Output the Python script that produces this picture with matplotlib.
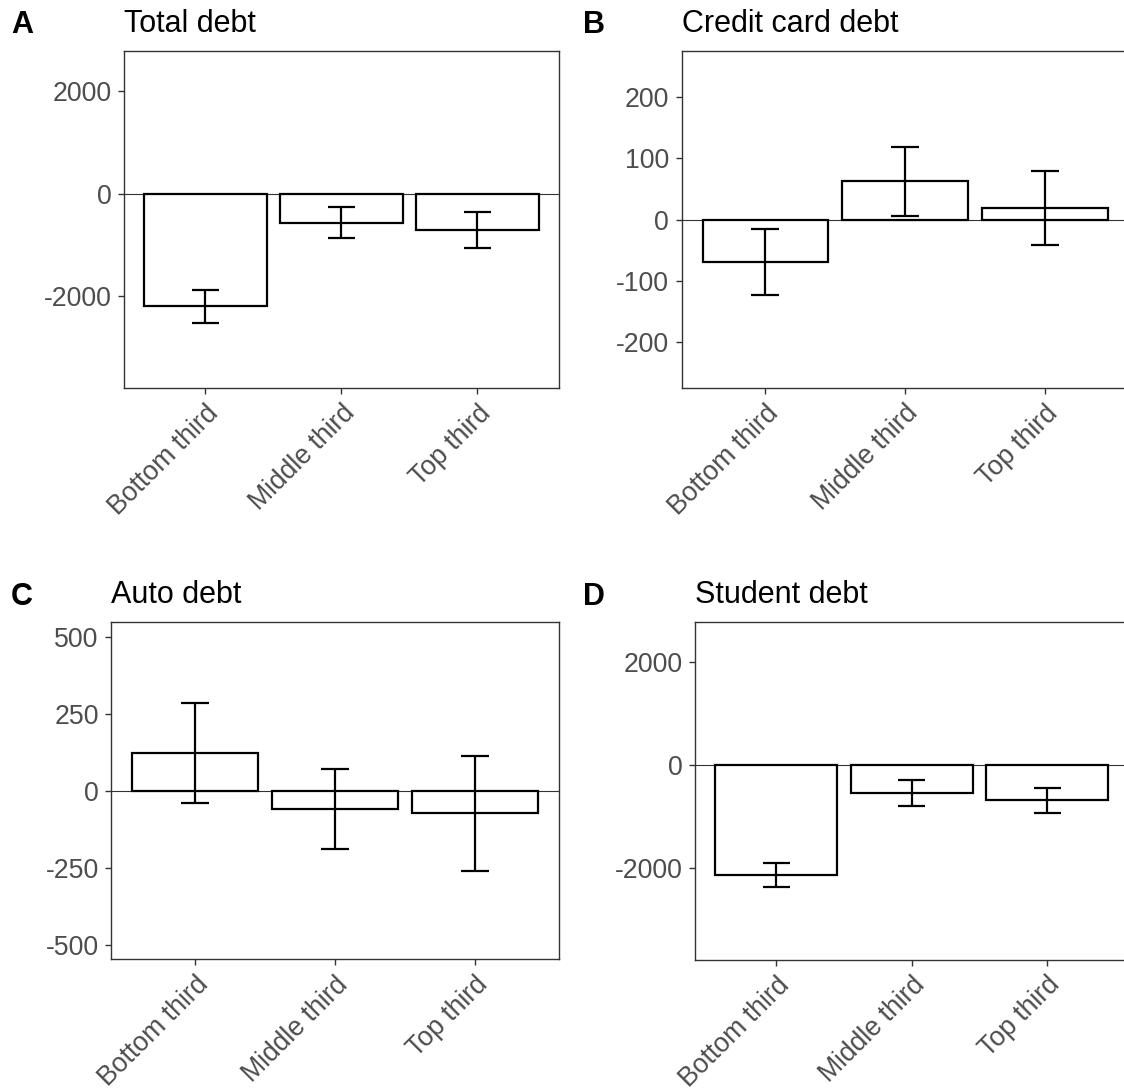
import matplotlib
matplotlib.use("Agg")
import matplotlib.pyplot as plt
import numpy as np

plt.rcParams["font.family"] = ["Liberation Sans", "DejaVu Sans"]

groups = ["Bottom third", "Middle third", "Top third"]

# Mean change and confidence bounds per income third
total_mean = [-2193, -571, -713]
total_low = [-2518, -869, -1063]
total_high = [-1875, -265, -362]

credit_mean = [-69, 62, 19]
credit_low = [-122, 6, -41]
credit_high = [-15, 118, 79]

auto_mean = [122, -60, -74]
auto_low = [-39, -188, -261]
auto_high = [284, 71, 114]

student_mean = [-2140, -539, -687]
student_low = [-2374, -792, -928]
student_high = [-1907, -298, -453]

W, H = 1124, 1090
fig = plt.figure(figsize=(W / 100, H / 100), dpi=100)

GREY_TXT = "#4d4d4d"
GREY_LINE = "#333333"


def px_axes(x0, y0, x1, y1):
    return fig.add_axes([x0 / W, 1 - y1 / H, (x1 - x0) / W, (y1 - y0) / H])


def panel(ax, title, mean, low, high, ylim, yticks):
    xs = np.arange(1, len(groups) + 1)
    ax.axhline(0, color=GREY_LINE, lw=0.8, zorder=1)
    ax.bar(xs, mean, width=0.9, facecolor="white", edgecolor="black",
           linewidth=1.6, zorder=2)
    ax.vlines(xs, low, high, color="black", lw=1.6, zorder=3)
    ax.hlines(low, xs - 0.1, xs + 0.1, color="black", lw=1.6, zorder=3)
    ax.hlines(high, xs - 0.1, xs + 0.1, color="black", lw=1.6, zorder=3)
    ax.set_xlim(0.4, 3.6)
    ax.set_ylim(*ylim)
    ax.set_yticks(yticks)
    ax.set_yticklabels([str(t) for t in yticks])
    ax.set_xticks(xs)
    ax.set_xticklabels(groups, rotation=45, ha="right", va="top",
                       rotation_mode="anchor")
    ax.tick_params(axis="both", colors=GREY_LINE, labelcolor=GREY_TXT,
                   labelsize=19.2, length=4.3, width=1.0, pad=4.7)
    ax.tick_params(axis="x", pad=4.5)
    for s in ax.spines.values():
        s.set_color(GREY_LINE)
        s.set_linewidth(1.0)
    ax.set_title(title, loc="left", fontsize=22, pad=14, color="black")


ax_a = px_axes(123.8, 51, 558.9, 388)
panel(ax_a, "Total debt", total_mean, total_low, total_high,
      (-3784, 2779), [-2000, 0, 2000])

ax_b = px_axes(681.6, 51, 1128.5, 388)
panel(ax_b, "Credit card debt", credit_mean, credit_low, credit_high,
      (-274, 274), [-200, -100, 0, 100, 200])

ax_c = px_axes(111.3, 622, 558.9, 959.3)
panel(ax_c, "Auto debt", auto_mean, auto_low, auto_high,
      (-548, 548), [-500, -250, 0, 250, 500])

ax_d = px_axes(694.9, 622, 1128.5, 959.7)
panel(ax_d, "Student debt", student_mean, student_low, student_high,
      (-3788, 2782), [-2000, 0, 2000])

for lab, x, y in [("A", 10.8, 32.7), ("B", 583.4, 32.7),
                  ("C", 10.8, 605), ("D", 583.4, 605)]:
    fig.text(x / W, 1 - y / H, lab, fontsize=22, fontweight="bold",
             ha="left", va="baseline")

fig.savefig("out.png", dpi=100)
